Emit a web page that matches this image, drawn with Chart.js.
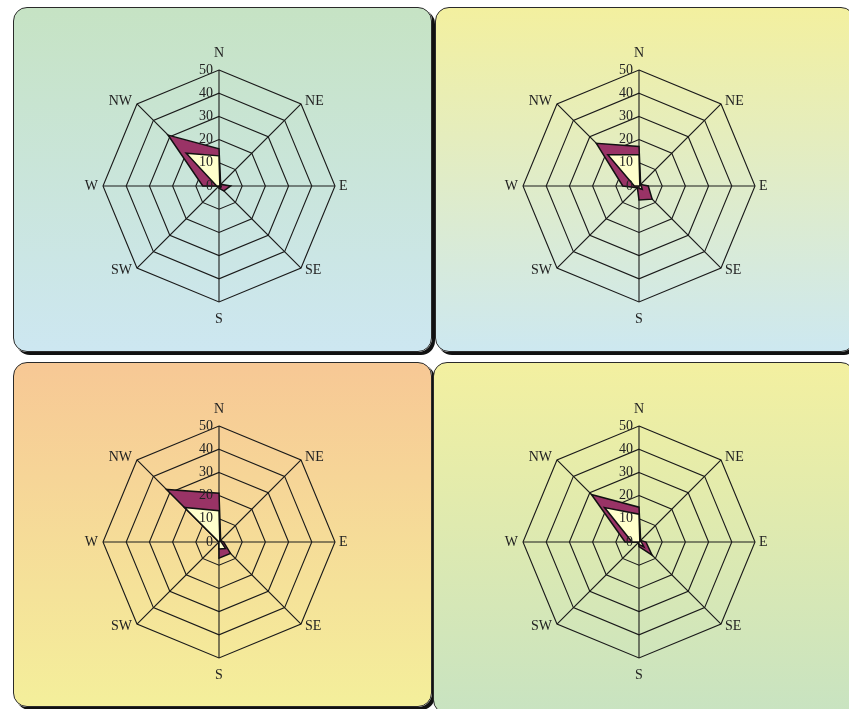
<!DOCTYPE html>
<html>
<head>
<meta charset="utf-8">
<script src="https://cdn.jsdelivr.net/npm/chart.js@4.4.1/dist/chart.umd.min.js"></script>
<style>
  html, body { margin: 0; padding: 0; background: #fff; }
  body { width: 849px; height: 709px; position: relative; overflow: hidden; }
  .panel {
    position: absolute;
    border: 1px solid #2a2a2a;
    border-radius: 14px;
    box-shadow: 3px 3px 0 #111;
    box-sizing: border-box;
  }
  .rose { position: absolute; }
</style>
</head>
<body>
<div class="panel" id="p1" style="left:13px;top:7px;width:419px;height:345px;background:linear-gradient(#c6e3c4,#cde7f1);"></div>
<div class="panel" id="p2" style="left:435px;top:7px;width:420px;height:345px;background:linear-gradient(#f3f09f,#cde8f0);"></div>
<div class="panel" id="p3" style="left:13px;top:362px;width:419px;height:345px;background:linear-gradient(#f7c895,#f4ef9b);"></div>
<div class="panel" id="p4" style="left:433px;top:362px;width:422px;height:352px;background:linear-gradient(#f3f0a0,#c8e3c1);"></div>

<canvas class="rose" id="c1" width="400" height="300" style="left:19px;top:36px;"></canvas>
<canvas class="rose" id="c2" width="400" height="300" style="left:439px;top:36px;"></canvas>
<canvas class="rose" id="c3" width="400" height="300" style="left:19px;top:392px;"></canvas>
<canvas class="rose" id="c4" width="400" height="300" style="left:439px;top:392px;"></canvas>

<script>
const directions = ['N', 'NE', 'E', 'SE', 'S', 'SW', 'W', 'NW'];
const tickValues = [0, 10, 20, 30, 40, 50];

// frequency per direction, two series per station
const outer1 = [16, 1, 5, 3, 1, 0, 7, 31];
const inner1 = [13, 0.5, 1, 1, 0, 0, 1, 20];
const outer2 = [17, 1, 4, 8, 6, 1, 7, 26];
const inner2 = [13.5, 0.5, 1, 2, 1, 0, 2, 19];
const outer3 = [21, 1, 2, 7, 7, 0, 0, 32];
const inner3 = [13.5, 0.5, 1, 4, 3, 0, 0, 21];
const outer4 = [15, 1, 3, 8, 2, 0, 6, 29];
const inner4 = [12, 0.5, 1, 3, 1, 0, 3, 21];

const serif = "'Liberation Serif', 'Times New Roman', serif";
Chart.defaults.font.family = serif;

// direction names hug the octagon corners, tick numbers sit left of the N axis
const roseText = {
  id: 'roseText',
  afterDatasetsDraw(chart) {
    const r = chart.scales.r;
    const ctx = chart.ctx;
    ctx.save();
    ctx.font = '14px ' + serif;
    ctx.fillStyle = '#222';
    ctx.textBaseline = 'middle';

    ctx.textAlign = 'right';
    tickValues.forEach(v => {
      const d = r.getDistanceFromCenterForValue(v);
      ctx.fillText(String(v), r.xCenter - 6, r.yCenter - d);
    });

    directions.forEach((name, i) => {
      const p = r.getPointPosition(i, r.drawingArea);
      const dx = p.x - r.xCenter;
      const dy = p.y - r.yCenter;
      let x = p.x, y = p.y;
      if (Math.abs(dx) < 1) {
        ctx.textAlign = 'center';
        y += dy < 0 ? -17 : 17;
      } else {
        ctx.textAlign = dx > 0 ? 'left' : 'right';
        x += dx > 0 ? 4 : -5;
        if (Math.abs(dy) > 1) y += dy < 0 ? -3 : 2.5;
      }
      ctx.fillText(name, x, y);
    });
    ctx.restore();
  }
};

function makeRose(id, outer, inner) {
  new Chart(document.getElementById(id), {
    type: 'radar',
    data: {
      labels: directions,
      datasets: [
        {
          data: inner,
          backgroundColor: '#ffffcc',
          borderColor: '#111',
          borderWidth: 1.5,
          pointRadius: 0
        },
        {
          data: outer,
          backgroundColor: '#993366',
          borderColor: '#111',
          borderWidth: 1.5,
          pointRadius: 0
        }
      ]
    },
    options: {
      responsive: false,
      animation: false,
      layout: { padding: { top: 34, bottom: 34 } },
      plugins: { legend: { display: false }, tooltip: { enabled: false } },
      scales: {
        r: {
          min: 0,
          max: 50,
          ticks: { stepSize: 10, display: false },
          grid: { color: '#1a1a1a', lineWidth: 1.1, circular: false },
          angleLines: { color: '#1a1a1a', lineWidth: 1.1 },
          pointLabels: { display: false }
        }
      }
    },
    plugins: [roseText]
  });
}

makeRose('c1', outer1, inner1);
makeRose('c2', outer2, inner2);
makeRose('c3', outer3, inner3);
makeRose('c4', outer4, inner4);
</script>
</body>
</html>
